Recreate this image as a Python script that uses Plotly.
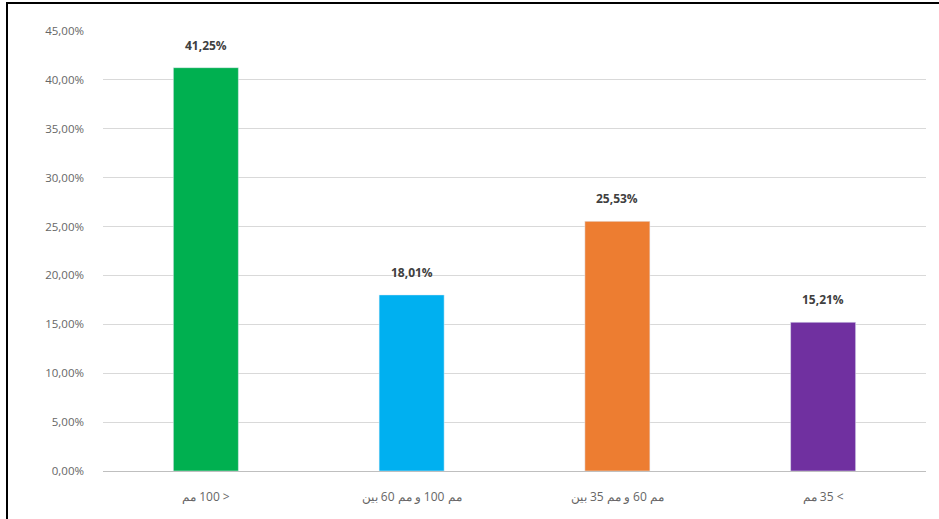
import plotly.graph_objects as go

RLI, PDI = "\u2067", "\u2069"
def ar(w):
    return RLI + w + PDI

categories = [
    ar("مم") + " 100 >",
    ar("بين") + " 60 " + ar("مم") + " " + ar("و") + " 100 " + ar("مم"),
    ar("بين") + " 35 " + ar("مم") + " " + ar("و") + " 60 " + ar("مم"),
    ar("مم") + " 35 <",
]
values = [0.4125, 0.1801, 0.2553, 0.1521]
colors = ["#00B050", "#00B0F0", "#ED7D31", "#7030A0"]
labels = [f"{v*100:.2f}%".replace(".", ",") for v in values]

W, H = 939, 519
ml, mr, mt, mb = 103, 13, 31, 48
pw, ph = W - ml - mr, H - mt - mb

fig = go.Figure(go.Bar(
    x=categories, y=values, marker_color=colors,
))
for c, v, t in zip(categories, values, labels):
    fig.add_annotation(x=c, y=v, text=t, showarrow=False, yanchor="bottom",
                       yshift=12,
                       font=dict(family="Open Sans, Arial", size=12, color="#404040",
                                 weight="bold"))
fig.update_layout(
    width=W, height=H, margin=dict(l=ml, r=mr, t=mt, b=mb),
    paper_bgcolor="white", plot_bgcolor="white",
    separators=",.", bargap=0.684, showlegend=False,
    font=dict(family="Open Sans, Arial", size=11.5, color="#666666"),
    yaxis=dict(range=[0, 0.45], dtick=0.05, tickformat=".2%", gridcolor="#D9D9D9",
               zeroline=False, ticks="", ticklabelstandoff=18, showline=False),
    xaxis=dict(showline=True, linecolor="#BFBFBF", ticks="", tickfont=dict(size=12),
               ticklabelstandoff=15),
    shapes=[
        dict(type="line", xref="paper", yref="paper",
             x0=(6 - ml) / pw, x1=(W - ml) / pw,
             y0=1 + (mt - 3) / ph, y1=1 + (mt - 3) / ph,
             line=dict(color="black", width=2)),
        dict(type="line", xref="paper", yref="paper",
             x0=(7 - ml) / pw, x1=(7 - ml) / pw,
             y0=-(mb) / ph, y1=1 + (mt - 2) / ph,
             line=dict(color="black", width=2)),
    ],
)
fig.write_html("out.html")
